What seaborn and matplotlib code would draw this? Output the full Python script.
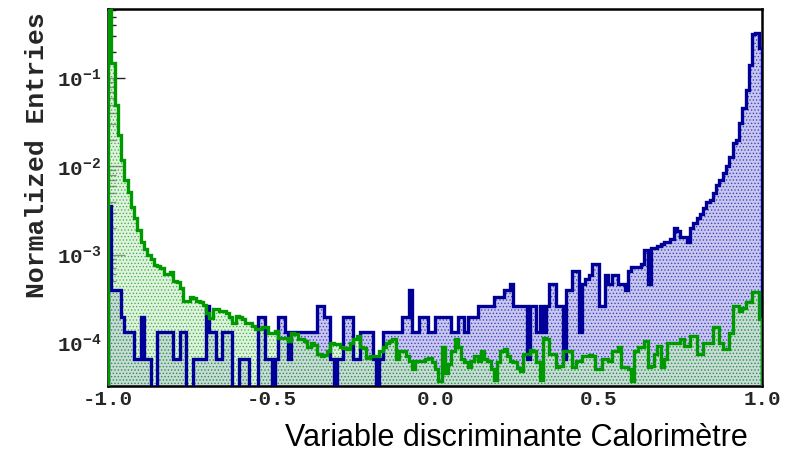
import numpy as np
import pandas as pd
import matplotlib
matplotlib.use("Agg")
import matplotlib.pyplot as plt
from matplotlib.ticker import FixedLocator, LogLocator, NullFormatter, FuncFormatter, MultipleLocator
import seaborn as sns

# Binning of the calorimeter discriminant: 200 bins on [-1, 1]
x_lo, x_hi, n_bins = -1.0, 1.0, 200

# Normalized bin contents, in units of 1e-4
signal_e4 = [
    36, 3.96, 3.96, 3.96, 1.98, 1.32, 1.32, 1.32, 0.66, 0.66,
    1.98, 0.66, 0.66, 0, 0, 1.32, 1.32, 1.32, 1.32, 1.32,
    0.66, 0.66, 1.32, 1.32, 0, 0, 0.66, 0.66, 0.66, 0.66,
    2.64, 1.32, 1.32, 0.66, 0.66, 1.32, 1.32, 1.32, 0, 0,
    0.66, 0.66, 0.66, 0, 0, 0, 1.98, 1.98, 0.66, 0.66,
    0, 0.66, 1.98, 1.98, 1.32, 0.66, 1.32, 1.32, 1.32, 1.32,
    1.32, 1.32, 1.32, 1.32, 2.64, 2.64, 1.98, 1.98, 0.66, 0,
    0.66, 0.66, 1.98, 1.98, 1.98, 0.66, 0.66, 1.32, 1.32, 1.32,
    1.32, 0.66, 0, 0.66, 1.32, 1.32, 1.32, 1.32, 1.32, 1.32,
    1.98, 1.98, 3.96, 1.32, 1.32, 1.98, 1.98, 1.98, 1.32, 1.32,
    1.98, 1.98, 1.98, 1.98, 1.98, 1.32, 1.32, 1.98, 1.98, 1.32,
    1.98, 1.98, 1.98, 2.64, 2.64, 2.64, 2.64, 2.64, 3.30, 3.30,
    3.30, 3.96, 3.96, 4.62, 2.64, 2.64, 2.64, 2.64, 0.66, 2.64,
    2.64, 1.32, 2.64, 1.32, 2.64, 4.62, 4.62, 2.64, 2.64, 0.66,
    3.96, 3.96, 6.60, 6.60, 1.32, 4.62, 5.28, 5.94, 7.92, 7.92,
    2.64, 2.64, 5.94, 4.62, 5.94, 5.94, 4.62, 4.62, 3.96, 6.60,
    7.26, 7.26, 7.26, 7.92, 11.2, 4.62, 11.9, 11.9, 12.5, 13.2,
    13.9, 13.9, 15.2, 19.8, 18.5, 15.8, 15.8, 13.9, 19.8, 23.1,
    25.7, 29.0, 33.7, 39.6, 42, 50, 62, 70, 85, 100,
    127, 185, 200, 308, 456, 730, 1400, 3200, 3300, 2200,
]

background_e4 = [
    8000, 1480, 497, 227, 118, 70, 51, 35, 26, 19,
    14, 11.7, 10, 8.9, 7.7, 7.5, 7.0, 6.0, 6.0, 6.3,
    5.0, 4.9, 4.2, 3.0, 3.0, 3.3, 3.2, 3.0, 2.9, 2.7,
    2.2, 1.9, 2.4, 2.4, 2.3, 2.3, 2.2, 1.95, 1.7, 2.0,
    1.94, 1.87, 1.7, 1.7, 1.56, 1.44, 1.44, 1.5, 1.5, 1.3,
    1.3, 1.36, 1.13, 1.13, 1.13, 1.04, 1.3, 1.26, 1.1, 1.1,
    1.05, 0.9, 1.0, 0.95, 0.75, 0.7, 0.72, 0.8, 1.0, 0.96,
    0.98, 0.9, 0.88, 0.86, 1.0, 1.1, 1.2, 0.9, 0.88, 0.68,
    0.7, 0.7, 0.7, 0.8, 0.9, 1.0, 1.04, 1.1, 0.65, 0.8,
    0.8, 0.7, 0.62, 0.5, 0.62, 0.62, 0.63, 0.66, 0.68, 0.6,
    0.5, 0.37, 0.9, 0.45, 0.58, 0.8, 1.1, 0.9, 0.65, 0.6,
    0.53, 0.62, 0.7, 0.62, 0.8, 0.66, 0.63, 0.5, 0.38, 0.6,
    0.8, 0.85, 0.7, 0.62, 0.6, 0.52, 0.48, 0.75, 0.75, 0.82,
    0.8, 0.6, 0.38, 1.13, 1.1, 0.75, 0.75, 0.53, 0.55, 0.8,
    0.8, 0.8, 0.53, 0.63, 0.63, 0.7, 0.7, 0.72, 0.7, 0.5,
    0.5, 0.66, 0.66, 0.63, 0.8, 0.8, 0.9, 0.53, 0.53, 0.5,
    0.37, 0.8, 0.9, 0.9, 1.05, 0.53, 0.55, 0.75, 0.93, 0.53,
    0.65, 1.0, 1.0, 1.0, 1.0, 1.1, 0.93, 0.93, 1.2, 1.2,
    0.75, 0.75, 1.0, 1.0, 1.0, 1.5, 1.5, 1.0, 0.85, 0.85,
    1.3, 2.6, 2.6, 2.3, 2.5, 2.9, 2.9, 3.8, 3.8, 1.86,
]

scale = 1e-4
y_lo, y_hi = 3.24e-5, 0.61

x_tick_values = [-1.0, -0.5, 0.0, 0.5, 1.0]
x_tick_labels = ["-1.0", "-0.5", "0.0", "0.5", "1.0"]
y_tick_exponents = [-4, -3, -2, -1]

x_title = "Variable discriminante Calorimètre"
y_title = "Normalized Entries"

sig_line, sig_fill, sig_dots = "#000099", (0.78, 0.78, 0.94, 1.0), (0.0, 0.0, 0.6, 0.6)
bkg_line, bkg_fill, bkg_dots = "#009a00", (0.78, 0.92, 0.78, 0.6), (0.0, 0.55, 0.0, 0.6)

sns.set_theme(style="white")
plt.rcParams.update({
    "font.family": ["Liberation Mono", "DejaVu Sans"],
    "mathtext.fontset": "custom",
    "mathtext.rm": "Liberation Mono:bold",
    "mathtext.it": "Liberation Mono:bold",
    "mathtext.bf": "Liberation Mono:bold",
    "axes.unicode_minus": False,
    "hatch.linewidth": 0.6,
})

edges = np.linspace(x_lo, x_hi, n_bins + 1)
centers = 0.5 * (edges[:-1] + edges[1:])
bin_list = [float(e) for e in edges]
hist = pd.DataFrame({
    "x": centers,
    "signal": np.asarray(signal_e4) * scale,
    "background": np.asarray(background_e4) * scale,
})

fig = plt.figure(figsize=(7.94, 4.54), dpi=100)
ax = fig.add_axes([108 / 794, 1 - 386 / 454, (762 - 108) / 794, (386 - 9) / 454])

# dotted pattern fills
sns.histplot(data=hist, x="x", weights="signal", bins=bin_list, element="step",
             fill=True, facecolor=sig_fill, edgecolor=sig_dots, hatch=".....",
             linewidth=0, ax=ax, zorder=1)
sns.histplot(data=hist, x="x", weights="background", bins=bin_list, element="step",
             fill=True, facecolor=bkg_fill, edgecolor=bkg_dots, hatch=".....",
             linewidth=0, ax=ax, zorder=1.5)

# thick outlines, zero bins dropping to the floor of the axis
floor = 1e-9
ax.stairs(np.where(hist["signal"] > 0, hist["signal"], floor), edges, baseline=floor,
          color=sig_line, linewidth=2.4, zorder=3)
ax.stairs(np.where(hist["background"] > 0, hist["background"], floor), edges, baseline=floor,
          color=bkg_line, linewidth=2.4, zorder=3.5)

ax.set_yscale("log")
ax.set_xlim(x_lo, x_hi)
ax.set_ylim(y_lo, y_hi)
ax.set_xlabel("")
ax.set_ylabel("")

ax.xaxis.set_major_locator(FixedLocator(x_tick_values))
ax.set_xticklabels(x_tick_labels)
ax.xaxis.set_minor_locator(MultipleLocator(0.1))
ax.yaxis.set_major_locator(FixedLocator([10.0 ** e for e in y_tick_exponents]))
ax.yaxis.set_major_formatter(FuncFormatter(lambda v, p: r"$10^{%d}$" % int(round(np.log10(v)))))
ax.yaxis.set_minor_locator(LogLocator(base=10, subs=np.arange(2, 10)))
ax.yaxis.set_minor_formatter(NullFormatter())

ax.tick_params(axis="x", which="major", direction="in", length=5, width=1, color="black",
               pad=3, labelsize=15, bottom=True, top=False)
ax.tick_params(axis="x", which="minor", direction="in", length=3, width=1, color="black",
               bottom=True, top=False)
ax.tick_params(axis="y", which="major", direction="in", length=12, width=1, color="#222222",
               pad=5, labelsize=15, left=True, right=False)
ax.tick_params(axis="y", which="minor", direction="in", length=6, width=1, color="#222222",
               left=True, right=False)
for lab in ax.get_xticklabels() + ax.get_yticklabels():
    lab.set_fontweight("bold")
    lab.set_family("Liberation Mono")

for side in ["left", "right", "top", "bottom"]:
    ax.spines[side].set_visible(True)
    ax.spines[side].set_color("black")
    ax.spines[side].set_linewidth(1.8)
    ax.spines[side].set_zorder(2.5)

fig.text(37 / 794, 1 - 155 / 454, y_title, rotation=90, ha="center", va="center",
         fontsize=19, fontweight="bold", family="Liberation Mono")
fig.text(748 / 794, 1 - 438 / 454, x_title, ha="right", va="center",
         fontsize=22, family=["Liberation Sans Narrow", "Liberation Sans"], color="black")

fig.savefig("out.png", dpi=100)
